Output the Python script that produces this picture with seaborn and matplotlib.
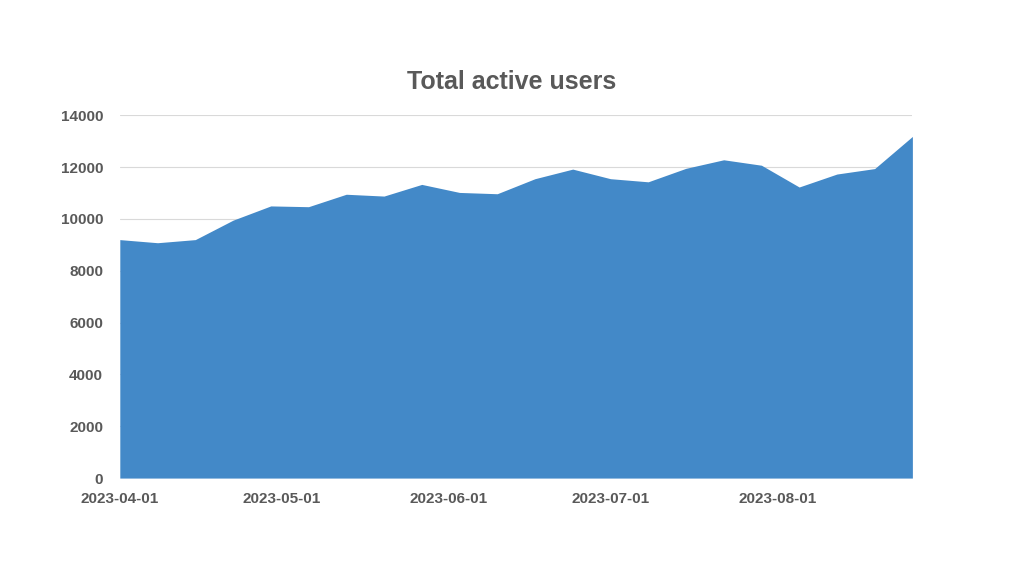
import matplotlib
matplotlib.use("Agg")
import matplotlib.pyplot as plt
import matplotlib.dates as mdates
import seaborn as sns
import pandas as pd

# weekly totals
dates = pd.date_range("2023-04-01", periods=22, freq="7D")
users = [9200, 9080, 9200, 9950, 10500, 10470, 10950, 10880, 11330, 11020, 10970,
         11550, 11920, 11550, 11430, 11950, 12280, 12070, 11230, 11730, 11940, 13180]
tick_dates = pd.to_datetime(["2023-04-01", "2023-05-01", "2023-06-01", "2023-07-01", "2023-08-01"])
y_ticks = [0, 2000, 4000, 6000, 8000, 10000, 12000, 14000]

sns.set_theme(style="white", font="Liberation Sans")
fig = plt.figure(figsize=(10.24, 5.76), dpi=100)
ax = fig.add_axes([0.117, 0.170, 0.774, 0.630])

df = pd.DataFrame({"date": dates, "users": users})
sns.lineplot(data=df, x="date", y="users", ax=ax, color="#4389C8", linewidth=0)
ax.fill_between(df["date"], df["users"], color="#4389C8", linewidth=0, zorder=2)

ax.set_xlim(dates[0], dates[-1])
ax.set_ylim(0, 14000)
ax.set_yticks(y_ticks)
ax.set_xticks(tick_dates)
ax.xaxis.set_major_formatter(mdates.DateFormatter("%Y-%m-%d"))
ax.grid(axis="y", color="#D9D9D9", linewidth=0.8, zorder=0)
ax.set_axisbelow(True)
for s in ax.spines.values():
    s.set_visible(False)
ax.tick_params(axis="both", length=0, labelsize=11, labelcolor="#595959")
for lab in ax.get_xticklabels() + ax.get_yticklabels():
    lab.set_fontweight("bold")
ax.tick_params(axis="y", pad=12)
ax.tick_params(axis="x", pad=10)
ax.set_xlabel("")
ax.set_ylabel("")
fig.text(0.5, 0.857, "Total active users", ha="center", va="center",
         fontsize=18, fontweight="bold", color="#595959")

fig.savefig("out.png", dpi=100)
